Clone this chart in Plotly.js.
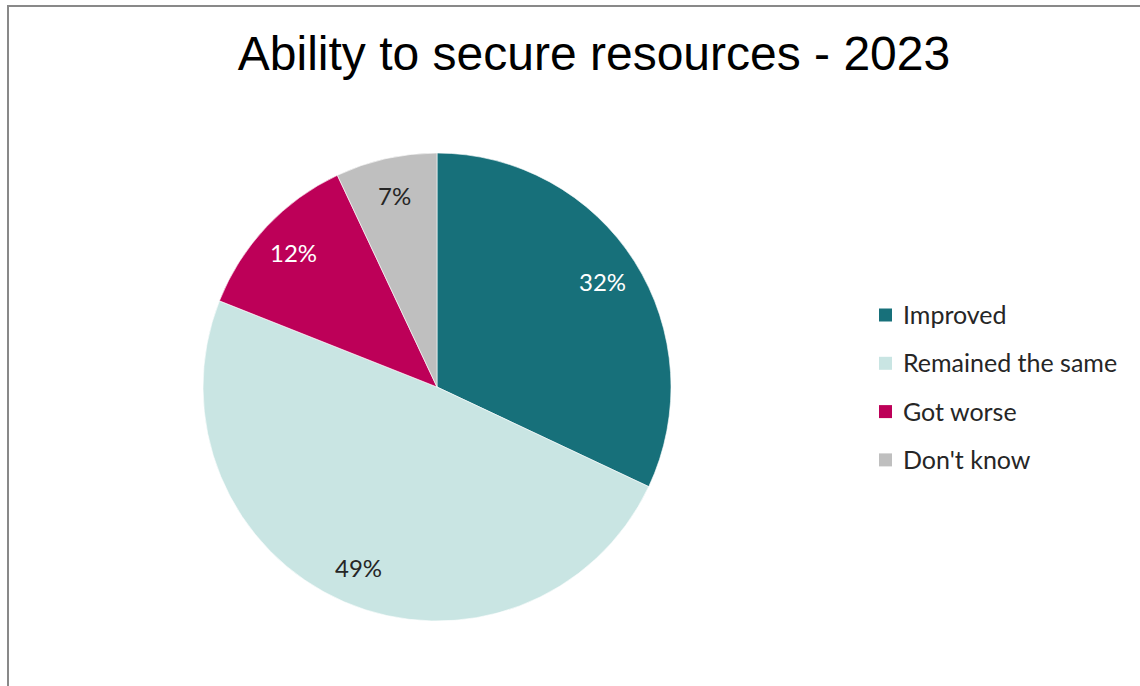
<!DOCTYPE html>
<html>
<head>
<meta charset="utf-8">
<script src="https://cdn.plot.ly/plotly-3.0.1.min.js"></script>
<style>
  html, body { margin: 0; padding: 0; background: #ffffff; }
  #chart { width: 1140px; height: 686px; }
</style>
</head>
<body>
<div id="chart"></div>
<script>
// Survey responses: ability to secure resources, 2023
const categories = ["Improved", "Remained the same", "Got worse", "Don't know"];
const shares = [32, 49, 12, 7];
const sliceColors = ["#17707A", "#C9E5E3", "#BD0058", "#BFBFBF"];
const labelColors = ["#FFFFFF", "#262626", "#FFFFFF", "#262626"];

const W = 1140, H = 686;
const px = x => x / W;
const py = y => 1 - y / H;

// pie geometry (pixels)
const cx = 437, cy = 387, R = 234;
const labelRadius = 0.84;

const total = shares.reduce((a, b) => a + b, 0);

const pie = {
  type: "pie",
  labels: categories,
  values: shares,
  sort: false,
  direction: "clockwise",
  rotation: 0,
  marker: { colors: sliceColors, line: { color: "#FFFFFF", width: 0.6 } },
  textinfo: "none",
  hoverinfo: "label+percent",
  showlegend: false,
  domain: { x: [px(cx - R), px(cx + R)], y: [py(cy + R), py(cy - R)] }
};

// percentage labels placed at each slice's mid-angle
const annotations = [];
let cum = 0;
shares.forEach((v, i) => {
  const mid = (cum + v / 2) / total * 2 * Math.PI;
  cum += v;
  const lx = cx + labelRadius * R * Math.sin(mid);
  const ly = cy - labelRadius * R * Math.cos(mid);
  annotations.push({
    xref: "paper", yref: "paper", x: px(lx), y: py(ly),
    xanchor: "center", yanchor: "middle", showarrow: false,
    text: Math.round(v / total * 100) + "%",
    font: { family: "Lato, 'Open Sans', sans-serif", size: 24, color: labelColors[i] }
  });
});

// legend entries: colour key + label
const shapes = [];
const legendX = 879, legendY0 = 315, legendStep = 48.3, key = 13;
categories.forEach((c, i) => {
  const yc = legendY0 + i * legendStep;
  shapes.push({
    type: "rect", xref: "paper", yref: "paper",
    x0: px(legendX), x1: px(legendX + key),
    y0: py(yc + key / 2), y1: py(yc - key / 2),
    fillcolor: sliceColors[i], line: { width: 0 }
  });
  annotations.push({
    xref: "paper", yref: "paper", x: px(legendX + key + 9), y: py(yc - 1),
    xanchor: "left", yanchor: "middle", showarrow: false,
    text: c,
    font: { family: "Lato, 'Open Sans', sans-serif", size: 25, color: "#262626" }
  });
});

// chart-area frame (top and left edges visible)
shapes.push({
  type: "rect", xref: "paper", yref: "paper",
  x0: px(8), x1: px(W + 10), y0: py(H + 10), y1: py(6),
  line: { color: "#898989", width: 2 }, fillcolor: "rgba(0,0,0,0)"
});

const layout = {
  width: W, height: H,
  margin: { l: 0, r: 0, t: 0, b: 0 },
  paper_bgcolor: "#FFFFFF",
  title: {
    text: "Ability to secure resources - 2023",
    font: { family: "'Liberation Sans', Arial, sans-serif", size: 48, color: "#000000" },
    x: px(594), xanchor: "center",
    y: py(53), yanchor: "middle", yref: "container"
  },
  showlegend: false,
  shapes: shapes,
  annotations: annotations
};

Plotly.newPlot("chart", [pie], layout, { displayModeBar: false, staticPlot: true });
</script>
</body>
</html>
